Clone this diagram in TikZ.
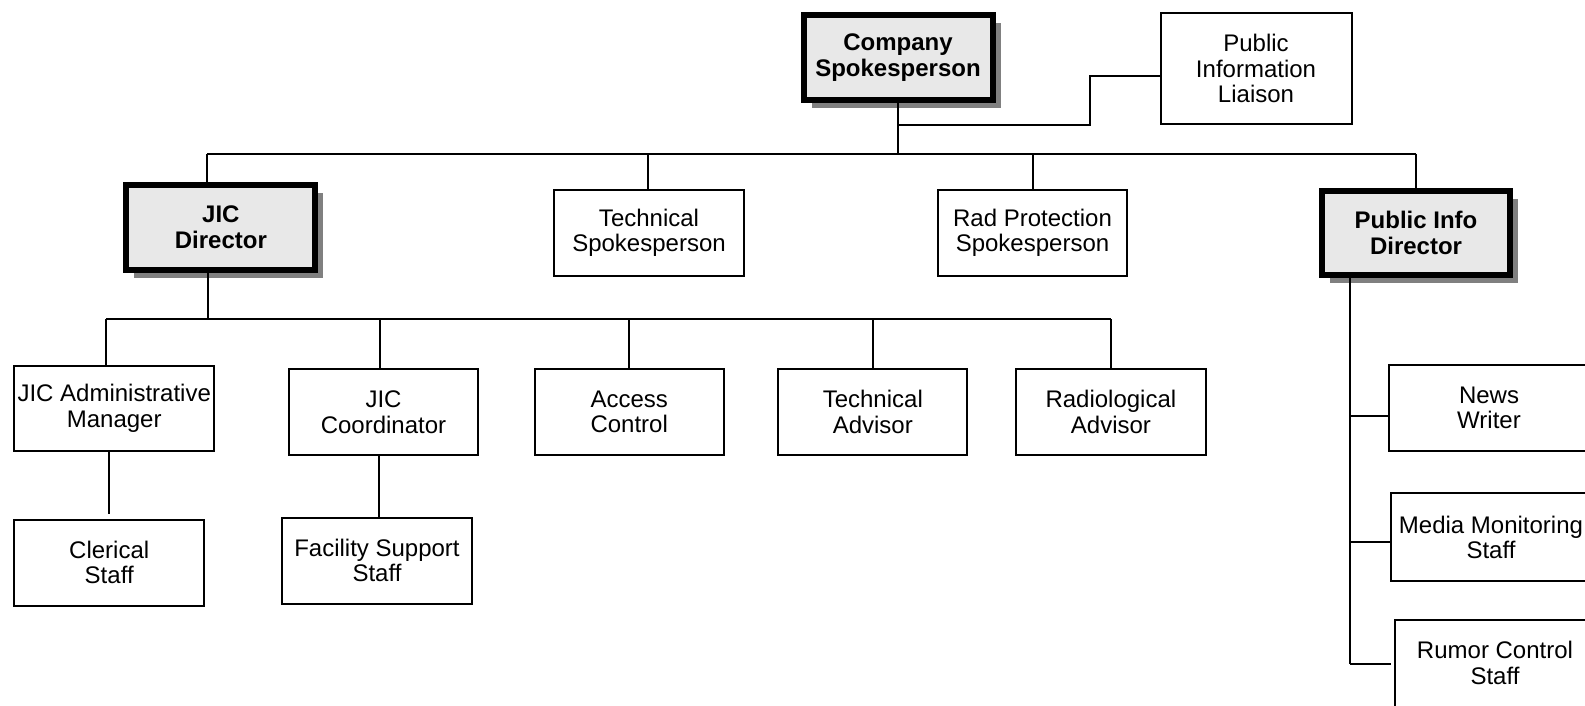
\documentclass[tikz,border=0pt]{standalone}
\usepackage{fontspec}
\setmainfont{Liberation Sans}
\usetikzlibrary{shadows}
\definecolor{headfill}{HTML}{E8E8E8}
\definecolor{shadowgray}{HTML}{808080}
\begin{document}
\begin{tikzpicture}[x=1pt,y=-1pt,
  every node/.style={font=\fontsize{24}{25.5}\selectfont, align=center, inner sep=0pt, outer sep=0pt},
  plain/.style={draw, line width=2pt, fill=white, minimum width=190pt, minimum height=86pt},
  head/.style={draw, line width=6pt, fill=headfill,
    font=\fontsize{24}{25.5}\selectfont\bfseries,
    minimum width=189pt, minimum height=85pt,
    drop shadow={shadow xshift=8pt, shadow yshift=-8pt, fill=shadowgray, opacity=1}},
  link/.style={line width=2pt}]
\useasboundingbox (0,0) rectangle (1585,706);

% top level
\node[head] (cs) at (898,57.6) {Company\\Spokesperson};
\node[plain, minimum width=191pt, minimum height=111pt] (pil) at (1256,68.7) {Public\\Information\\Liaison};

% second level
\node[head] (jd) at (220.9,227.4) {JIC\\Director};
\node[plain] (ts) at (649,233) {Technical\\Spokesperson};
\node[plain, minimum width=189pt] (rp) at (1032.5,233) {Rad Protection\\Spokesperson};
\node[head, minimum width=188.5pt, minimum height=84.5pt] (pd) at (1416,233) {Public Info\\Director};

% JIC director staff
\node[plain, minimum width=200pt, minimum height=85pt] (am) at (114.2,408.4) {JIC Administrative\\Manager};
\node[plain, minimum width=189pt] (jc) at (383.5,412) {JIC\\Coordinator};
\node[plain, minimum width=189pt] (ac) at (629.2,412) {Access\\Control};
\node[plain, minimum width=189pt] (ta) at (872.8,412) {Technical\\Advisor};
\node[plain] (ra) at (1110.9,412) {Radiological\\Advisor};
\node[plain] (cl) at (109.2,562.5) {Clerical\\Staff};
\node[plain] (fs) at (377,560.5) {Facility Support\\Staff};

% public info director staff
\node[plain, minimum width=200pt] (nw) at (1489,408) {News\\Writer};
\node[plain, minimum width=200pt, minimum height=88pt] (mm) at (1491,537.3) {Media Monitoring\\Staff};
\node[plain, minimum width=200pt, minimum height=87pt] (rc) at (1495,663) {Rumor Control\\Staff};

% bus lines
\coordinate (busA) at (0,153.6);
\coordinate (busB) at (0,319);

% company spokesperson connections
\draw[link] (cs.south) -- (cs.south |- busA);
\draw[link] (cs.south |- 0,125.3) -- (1089.6,125.3) -- (1089.6,75.8) -- (pil.west |- 0,75.8);
\draw[link] (207.2,0 |- busA) -- (pd.north |- busA);
\draw[link] (207.2,0 |- busA) -- (207.2,0 |- jd.north);
\draw[link] (647.9,0 |- busA) -- (647.9,0 |- ts.north);
\draw[link] (rp.north |- busA) -- (rp.north);
\draw[link] (pd.north |- busA) -- (pd.north);

% JIC director connections
\draw[link] (207.7,0 |- jd.south) -- (207.7,0 |- busB);
\draw[link] (106,0 |- busB) -- (ra.north |- busB);
\draw[link] (106,0 |- busB) -- (106,0 |- am.north);
\draw[link] (380,0 |- busB) -- (380,0 |- jc.north);
\draw[link] (ac.north |- busB) -- (ac.north);
\draw[link] (ta.north |- busB) -- (ta.north);
\draw[link] (ra.north |- busB) -- (ra.north);
\draw[link, shorten >=6pt] (cl.north |- am.south) -- (cl.north);
\draw[link] (379,0 |- jc.south) -- (379,0 |- fs.north);

% public info director connections
\coordinate (pdv) at (1350.4,664);
\draw[link] (pdv |- pd.south) -- (pdv);
\draw[link] (pdv |- 0,416.4) -- (nw.west |- 0,416.4);
\draw[link] (pdv |- 0,541.8) -- (mm.west |- 0,541.8);
\draw[link, shorten >=4pt] (pdv) -- (rc.west |- pdv);
\end{tikzpicture}
\end{document}
